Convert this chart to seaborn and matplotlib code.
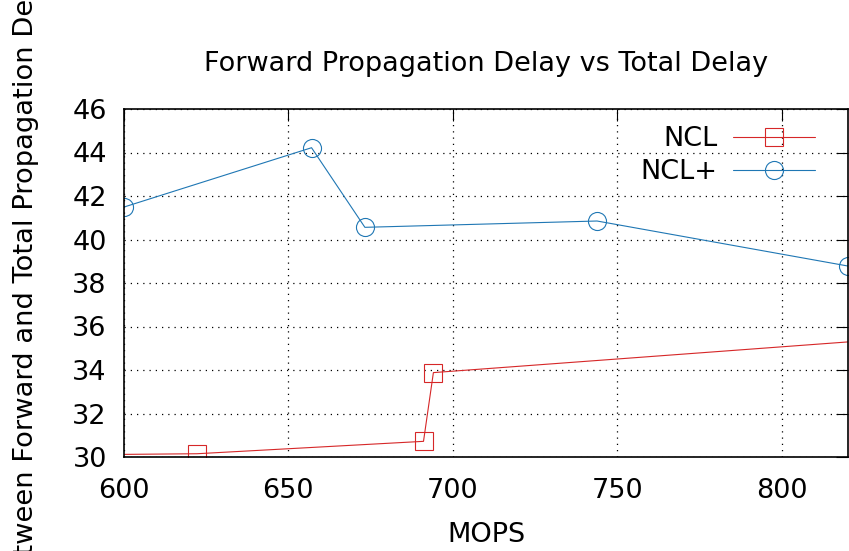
import matplotlib
matplotlib.use("Agg")
import matplotlib.pyplot as plt
import seaborn as sns
import pandas as pd

# Measured delay ratio (%) against throughput (MOPS)
ncl_mops = [585, 622.3, 691.1, 694.1, 852]
ncl_ratio = [30.1, 30.15, 30.72, 33.88, 35.65]
nclp_mops = [600.3, 657.1, 673.3, 743.8, 820]
nclp_ratio = [41.5, 44.22, 40.56, 40.85, 38.78]

series_names = ["NCL", "NCL+"]
x_ticks = [600, 650, 700, 750, 800]
y_ticks = [30, 32, 34, 36, 38, 40, 42, 44, 46]

sns.set_theme(style="white")
plt.rcParams["font.family"] = ["DejaVu Sans"]

W, H = 849, 551
fig = plt.figure(figsize=(W / 100, H / 100), dpi=100)
ax = fig.add_axes([123.5 / W, 1 - 457 / H, (848 - 123.5) / W, (457 - 109) / H])

fs = 19.5
red = "#d62728"
blue = "#1f77b4"

df_ncl = pd.DataFrame({"MOPS": ncl_mops, "ratio": ncl_ratio})
df_nclp = pd.DataFrame({"MOPS": nclp_mops, "ratio": nclp_ratio})

sns.lineplot(data=df_ncl, x="MOPS", y="ratio", ax=ax, color=red, lw=0.8,
             marker="s", markersize=13, markerfacecolor="none",
             markeredgecolor=red, markeredgewidth=0.8, label=series_names[0],
             sort=False)
sns.lineplot(data=df_nclp, x="MOPS", y="ratio", ax=ax, color=blue, lw=0.8,
             marker="o", markersize=13, markerfacecolor="none",
             markeredgecolor=blue, markeredgewidth=0.8, label=series_names[1],
             sort=False)

ax.set_xlim(600, 820)
ax.set_ylim(30, 46)
ax.set_xticks(x_ticks)
ax.set_yticks(y_ticks)
ax.set_xlabel("")
ax.set_ylabel("")

ax.grid(True, color="black", linestyle=(0, (1, 4)), linewidth=0.9)
for s in ax.spines.values():
    s.set_color("black")
    s.set_linewidth(1.2)
    s.set_visible(True)
ax.tick_params(axis="both", which="major", direction="in", length=8.6,
               width=0.8, color="black", labelsize=fs, labelcolor="black",
               top=True, right=True)
ax.tick_params(axis="y", pad=12)
ax.tick_params(axis="x", pad=15)

leg = ax.legend(loc="upper right", bbox_to_anchor=(0.954, 0.95), frameon=False,
                markerfirst=False, handlelength=3.0, handletextpad=0.6,
                labelspacing=0.25, fontsize=fs, borderpad=0, borderaxespad=0,
                numpoints=1, labelcolor="black")

fig.text(486 / W, 1 - 64 / H, "Forward Propagation Delay vs Total Delay",
         ha="center", va="center", fontsize=fs, color="black")
fig.text(486 / W, 1 - 535 / H, "MOPS", ha="center", va="center",
         fontsize=fs, color="black")

# Y label: long rotated label, positioned so "between" sits at the lower edge
ylabel = "Ratio between Forward and Total Propagation Delay (%)"
prefix = "Ratio bet"
yfs = 19.7
renderer = fig.canvas.get_renderer()
probe = fig.text(0, 0, prefix, fontsize=yfs)
pw = probe.get_window_extent(renderer=renderer).width
probe.remove()
start_y = (H - 544) - pw
fig.text(33 / W, start_y / H, ylabel, rotation=90, rotation_mode="anchor",
         ha="left", va="baseline", fontsize=yfs, color="black")

fig.savefig("out.png", dpi=100)
